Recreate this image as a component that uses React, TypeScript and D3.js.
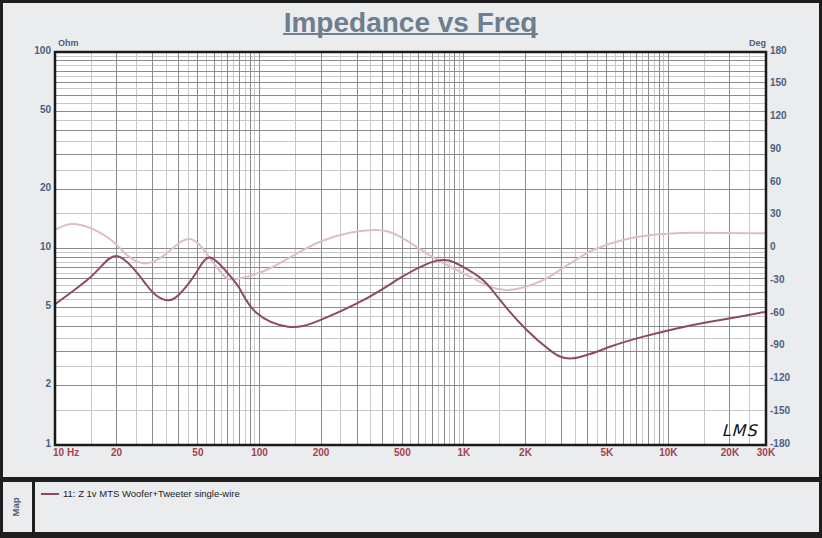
import React from "react";
import * as d3 from "d3";

const W = 822;
const H = 538;

// Data
const impFreq = [10, 12.3, 14.8, 17, 20, 24.2, 28.1, 31.4, 35.8, 40.9, 49.3, 57.3, 69.1, 80.3, 96.9, 138, 198, 334, 486, 730, 955, 1241, 1500, 2027, 2630, 3400, 5175, 7540, 10970, 15960, 23230, 30000];
const impOhm = [5.2, 6.1, 7.1, 8.2, 9.15, 7.9, 6.5, 5.75, 5.45, 5.9, 7.6, 9.0, 7.6, 6.2, 4.69, 4.0, 4.32, 5.57, 7.06, 8.65, 8.22, 6.9, 5.47, 3.85, 3.04, 2.76, 3.16, 3.56, 3.92, 4.24, 4.53, 4.77];

const phFreq = [10, 12.8, 17.9, 21.6, 27.0, 35.2, 45.7, 57.3, 66.5, 77.1, 116.6, 198, 354, 486, 657, 884, 1153, 1616, 2438, 2944, 3696, 4276, 6190, 9040, 13000, 30000];
const phDeg = [17, 22.2, 10.8, -2.9, -13.6, -4.4, 8.7, -9, -24.3, -27.9, -16.7, 6.2, 16.9, 10.8, -4.4, -18.1, -28.9, -38, -28.9, -19.7, -8, -1.4, 8.4, 13, 14.5, 13.9];

const ohmTicks = [100, 50, 20, 10, 5, 2, 1];
const degTicks = [180, 150, 120, 90, 60, 30, 0, -30, -60, -90, -120, -150, -180];
const freqTicks = [20, 50, 100, 200, 500, 1000, 2000, 5000, 10000, 20000, 30000];
const freqTickLabels = ["20", "50", "100", "200", "500", "1K", "2K", "5K", "10K", "20K", "30K"];

const title = "Impedance vs Freq";
const legendLabel = "11: Z 1v MTS Woofer+Tweeter single-wire";

const L = 55, R = 766, T = 52, B = 445;

const x = d3.scaleLog().domain([10, 30000]).range([L, R]);
const yOhm = d3.scaleLog().domain([1, 100]).range([B, T]);
const yDeg = d3.scaleLinear().domain([-180, 180]).range([B, T]);

function gridValues(min: number, max: number) {
  const dark: number[] = [];
  const light: number[] = [];
  for (let p = 1; p <= 100000; p *= 10) {
    for (let n = 1; n <= 9; n++) {
      const v = n * p;
      if (v > min && v < max) dark.push(v);
      const h = (n + 0.5) * p;
      if (h > min && h < max) light.push(h);
    }
  }
  return { dark, light };
}

const AXIS_BLUE = "#4a5f82";
const AXIS_RED = "#a3424f";
const FONT = "'Liberation Sans', Arial, sans-serif";

export default function App() {
  const xg = gridValues(10, 30000);
  const yg = gridValues(1, 100);
  const px = (v: number) => Math.floor(v) + 0.5;

  const impLine = d3
    .line<number>()
    .x((_, i) => x(impFreq[i]))
    .y((d) => yOhm(d))
    .curve(d3.curveNatural);
  const phLine = d3
    .line<number>()
    .x((_, i) => x(phFreq[i]))
    .y((d) => yDeg(d))
    .curve(d3.curveNatural);

  return (
    <svg
      width={W}
      height={H}
      style={{ position: "fixed", left: 0, top: 0, display: "block" }}
      fontFamily={FONT}
    >
      <rect x={0} y={0} width={W} height={H} fill="#1e1e1e" />
      <rect x={3} y={3} width={816} height={474} fill="#ebecee" />
      <rect x={3} y={482} width={29} height={50} fill="#ebecee" />
      <rect x={35} y={482} width={784} height={50} fill="#ebecee" />

      {/* title */}
      <text x={410.5} y={32} textAnchor="middle" fontSize={28} fontWeight="bold" fill="#6d7e8e">
        {title}
      </text>
      <line x1={283} x2={538} y1={34} y2={34} stroke="#6d7e8e" strokeWidth={2} />

      {/* plot area */}
      <rect x={L} y={T} width={R - L} height={B - T} fill="#ffffff" />
      <g shapeRendering="crispEdges">
        {xg.light.map((v) => (
          <line key={"xl" + v} x1={px(x(v))} x2={px(x(v))} y1={T} y2={B} stroke="#c8c8c8" />
        ))}
        {yg.light.map((v) => (
          <line key={"yl" + v} x1={L} x2={R} y1={px(yOhm(v))} y2={px(yOhm(v))} stroke="#c8c8c8" />
        ))}
        {xg.dark.map((v) => (
          <line key={"xd" + v} x1={px(x(v))} x2={px(x(v))} y1={T} y2={B} stroke="#8c8c8c" />
        ))}
        {yg.dark.map((v) => (
          <line key={"yd" + v} x1={L} x2={R} y1={px(yOhm(v))} y2={px(yOhm(v))} stroke="#8c8c8c" />
        ))}
      </g>

      {/* curves */}
      <path d={phLine(phDeg) || ""} fill="none" stroke="#dcbdca" strokeWidth={2} />
      <path d={impLine(impOhm) || ""} fill="none" stroke="#8b4a66" strokeWidth={2} />

      {/* frame */}
      <rect x={L} y={T} width={R - L} height={B - T} fill="none" stroke="#1a1a1a" strokeWidth={2.5} />

      {/* left axis */}
      {ohmTicks.map((v) => (
        <text key={"o" + v} x={51} y={yOhm(v) + 1.6} textAnchor="end" fontSize={10} fontWeight="bold" fill={AXIS_BLUE}>
          {v}
        </text>
      ))}
      <text x={58} y={46} fontSize={9} fontWeight="bold" fill={AXIS_BLUE}>Ohm</text>

      {/* right axis */}
      {degTicks.map((v) => (
        <text key={"d" + v} x={770} y={yDeg(v) + 1.6} textAnchor="start" fontSize={10} fontWeight="bold" fill={AXIS_BLUE}>
          {v}
        </text>
      ))}
      <text x={766} y={46} textAnchor="end" fontSize={9} fontWeight="bold" fill={AXIS_BLUE}>Deg</text>

      {/* bottom axis */}
      <text x={53} y={456} fontSize={10} fontWeight="bold" fill={AXIS_RED}>10</text>
      <text x={67} y={456} fontSize={10} fontWeight="bold" fill={AXIS_RED}>Hz</text>
      {freqTicks.map((v, i) => (
        <text key={"f" + v} x={x(v)} y={456} textAnchor="middle" fontSize={10} fontWeight="bold" fill={AXIS_RED}>
          {freqTickLabels[i]}
        </text>
      ))}

      {/* LMS logo */}
      <text x={741} y={436} textAnchor="middle" fontSize={16} fontStyle="italic" fill="#111" fontFamily="'DejaVu Sans', sans-serif" letterSpacing={1} transform="skewX(-4)" style={{ transformBox: "fill-box", transformOrigin: "center" }}>
        LMS
      </text>

      {/* legend */}
      <text x={0} y={0} transform="translate(18.5,507) rotate(-90)" textAnchor="middle" fontSize={9.5} fontWeight="bold" fill={AXIS_BLUE}>
        Map
      </text>
      <line x1={41} x2={59} y1={494} y2={494} stroke="#8b4a66" strokeWidth={2} />
      <text x={63} y={496.5} fontSize={9.5} fill="#222">{legendLabel}</text>
    </svg>
  );
}
